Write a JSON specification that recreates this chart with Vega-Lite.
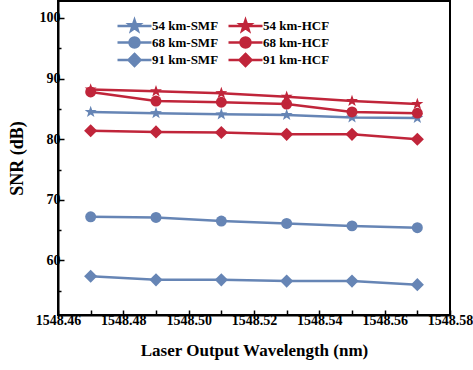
{
  "$schema": "https://vega.github.io/schema/vega-lite/v6.json",
  "width": 392,
  "height": 314,
  "autosize": {"type": "none"},
  "padding": {"left": 58, "top": 1, "right": 23, "bottom": 55},
  "background": "white",
  "config": {
    "font": "Liberation Serif",
    "view": {"stroke": "black", "strokeWidth": 2},
    "axis": {
      "grid": false,
      "domainColor": "black",
      "domainWidth": 2,
      "tickColor": "black",
      "tickWidth": 1.5,
      "labelFont": "Liberation Serif",
      "labelFontWeight": "bold",
      "labelColor": "black",
      "titleFont": "Liberation Serif",
      "titleFontWeight": "bold",
      "titleColor": "black"
    },
    "legend": {
      "labelFont": "Liberation Serif",
      "labelFontWeight": "bold",
      "labelFontSize": 13,
      "labelColor": "black",
      "labelLimit": 200
    }
  },
  "data": {
    "values": [
      {"series": "54 km-SMF", "wavelength": 1548.47, "snr": 84.5},
      {"series": "54 km-SMF", "wavelength": 1548.49, "snr": 84.3},
      {"series": "54 km-SMF", "wavelength": 1548.51, "snr": 84.1},
      {"series": "54 km-SMF", "wavelength": 1548.53, "snr": 84.0},
      {"series": "54 km-SMF", "wavelength": 1548.55, "snr": 83.6},
      {"series": "54 km-SMF", "wavelength": 1548.57, "snr": 83.5},
      {"series": "68 km-SMF", "wavelength": 1548.47, "snr": 67.2},
      {"series": "68 km-SMF", "wavelength": 1548.49, "snr": 67.1},
      {"series": "68 km-SMF", "wavelength": 1548.51, "snr": 66.5},
      {"series": "68 km-SMF", "wavelength": 1548.53, "snr": 66.1},
      {"series": "68 km-SMF", "wavelength": 1548.55, "snr": 65.7},
      {"series": "68 km-SMF", "wavelength": 1548.57, "snr": 65.4},
      {"series": "91 km-SMF", "wavelength": 1548.47, "snr": 57.4},
      {"series": "91 km-SMF", "wavelength": 1548.49, "snr": 56.8},
      {"series": "91 km-SMF", "wavelength": 1548.51, "snr": 56.8},
      {"series": "91 km-SMF", "wavelength": 1548.53, "snr": 56.6},
      {"series": "91 km-SMF", "wavelength": 1548.55, "snr": 56.6},
      {"series": "91 km-SMF", "wavelength": 1548.57, "snr": 56.0},
      {"series": "54 km-HCF", "wavelength": 1548.47, "snr": 88.2},
      {"series": "54 km-HCF", "wavelength": 1548.49, "snr": 87.9},
      {"series": "54 km-HCF", "wavelength": 1548.51, "snr": 87.6},
      {"series": "54 km-HCF", "wavelength": 1548.53, "snr": 87.0},
      {"series": "54 km-HCF", "wavelength": 1548.55, "snr": 86.3},
      {"series": "54 km-HCF", "wavelength": 1548.57, "snr": 85.8},
      {"series": "68 km-HCF", "wavelength": 1548.47, "snr": 87.8},
      {"series": "68 km-HCF", "wavelength": 1548.49, "snr": 86.3},
      {"series": "68 km-HCF", "wavelength": 1548.51, "snr": 86.1},
      {"series": "68 km-HCF", "wavelength": 1548.53, "snr": 85.8},
      {"series": "68 km-HCF", "wavelength": 1548.55, "snr": 84.5},
      {"series": "68 km-HCF", "wavelength": 1548.57, "snr": 84.3},
      {"series": "91 km-HCF", "wavelength": 1548.47, "snr": 81.4},
      {"series": "91 km-HCF", "wavelength": 1548.49, "snr": 81.2},
      {"series": "91 km-HCF", "wavelength": 1548.51, "snr": 81.1},
      {"series": "91 km-HCF", "wavelength": 1548.53, "snr": 80.8},
      {"series": "91 km-HCF", "wavelength": 1548.55, "snr": 80.8},
      {"series": "91 km-HCF", "wavelength": 1548.57, "snr": 80.0}
    ]
  },
  "encoding": {
    "x": {
      "field": "wavelength",
      "type": "quantitative",
      "scale": {"domain": [1548.46, 1548.58], "nice": false, "zero": false},
      "axis": {
        "title": "Laser Output Wavelength (nm)",
        "titleFontSize": 17,
        "titlePadding": 15,
        "labelFontSize": 14,
        "labelPadding": 3,
        "values": [1548.46, 1548.47, 1548.48, 1548.49, 1548.5, 1548.51, 1548.52, 1548.53, 1548.54, 1548.55, 1548.56, 1548.57, 1548.58],
        "labelExpr": "round(datum.value*100) % 2 == 0 ? format(datum.value, '.2f') : ''",
        "labelOverlap": false,
        "labelFlush": false,
        "tickSize": -5
      }
    },
    "y": {
      "field": "snr",
      "type": "quantitative",
      "scale": {"domain": [51, 102.8], "nice": false, "zero": false},
      "axis": {
        "title": "SNR (dB)",
        "titleFontSize": 18,
        "titlePadding": 13,
        "labelFontSize": 14,
        "labelPadding": 4,
        "values": [55, 60, 65, 70, 75, 80, 85, 90, 95, 100],
        "labelExpr": "datum.value % 10 == 0 ? datum.label : ''",
        "labelOverlap": false,
        "tickSize": {"condition": {"test": "datum.value % 10 == 0", "value": -6}, "value": -3}
      }
    },
    "color": {
      "field": "series",
      "type": "nominal",
      "scale": {
        "domain": ["54 km-HCF", "68 km-HCF", "91 km-HCF", "54 km-SMF", "68 km-SMF", "91 km-SMF"],
        "range": ["#c0253a", "#c0253a", "#c0253a", "#6685b5", "#6685b5", "#6685b5"]
      },
      "legend": null
    }
  },
  "layer": [
    {
      "mark": {"type": "line", "strokeWidth": 2.5},
      "encoding": {"detail": {"field": "series"}}
    },
    {
      "transform": [{"filter": "indexof(datum.series, '54') == 0"}],
      "mark": {"type": "point", "filled": true, "opacity": 1, "size": 120,
        "shape": "M0,-1.15L0.27,-0.37L1.09,-0.36L0.44,0.14L0.68,0.93L0,0.46L-0.68,0.93L-0.44,0.14L-1.09,-0.36L-0.27,-0.37Z"}
    },
    {
      "transform": [{"filter": "indexof(datum.series, '68') == 0"}],
      "mark": {"type": "point", "filled": true, "opacity": 1, "size": 120, "shape": "circle"}
    },
    {
      "transform": [{"filter": "indexof(datum.series, '91') == 0"}],
      "mark": {"type": "point", "filled": true, "opacity": 1, "size": 120,
        "shape": "M0,-1.2L1.2,0L0,1.2L-1.2,0Z"}
    },
    {
      "transform": [{"filter": "indexof(datum.series, '68') == 0"}],
      "mark": {"type": "point", "filled": true, "opacity": 0.85, "size": 12, "shape": "circle", "color": "white"}
    },
    {
      "transform": [{"filter": "false"}],
      "mark": {"type": "point", "filled": true, "size": 100, "strokeWidth": 2.5},
      "encoding": {
        "color": {"value": "#888888"},
        "fill": {
          "field": "series",
          "type": "nominal",
          "scale": {
            "domain": ["54 km-SMF", "68 km-SMF", "91 km-SMF", "54 km-HCF", "68 km-HCF", "91 km-HCF"],
            "range": ["#6685b5", "#6685b5", "#6685b5", "#c0253a", "#c0253a", "#c0253a"]
          },
          "legend": {
            "title": null,
            "orient": "none",
            "legendX": 70,
            "legendY": 18,
            "columns": 2,
            "columnPadding": 4,
            "rowPadding": -4.5,
            "padding": 0,
            "symbolSize": 100,
            "symbolStrokeWidth": 2.5,
            "symbolOpacity": 1,
            "labelOffset": 11
          }
        },
        "stroke": {
          "field": "series",
          "type": "nominal",
          "scale": {
            "domain": ["54 km-SMF", "68 km-SMF", "91 km-SMF", "54 km-HCF", "68 km-HCF", "91 km-HCF"],
            "range": ["#6685b5", "#6685b5", "#6685b5", "#c0253a", "#c0253a", "#c0253a"]
          },
          "legend": {
            "title": null,
            "orient": "none",
            "legendX": 70,
            "legendY": 18,
            "columns": 2,
            "columnPadding": 4,
            "rowPadding": -4.5,
            "padding": 0,
            "symbolSize": 100,
            "symbolStrokeWidth": 2.5,
            "symbolOpacity": 1,
            "labelOffset": 11
          }
        },
        "shape": {
          "field": "series",
          "type": "nominal",
          "scale": {
            "domain": ["54 km-SMF", "68 km-SMF", "91 km-SMF", "54 km-HCF", "68 km-HCF", "91 km-HCF"],
            "range": [
              "M-3.4,0H3.4M0,-1.15L0.27,-0.37L1.09,-0.36L0.44,0.14L0.68,0.93L0,0.46L-0.68,0.93L-0.44,0.14L-1.09,-0.36L-0.27,-0.37Z",
              "M-3.4,0H3.4M-1,0A1,1,0,1,1,1,0A1,1,0,1,1,-1,0Z",
              "M-3.4,0H3.4M0,-1.2L1.2,0L0,1.2L-1.2,0Z",
              "M-3.4,0H3.4M0,-1.15L0.27,-0.37L1.09,-0.36L0.44,0.14L0.68,0.93L0,0.46L-0.68,0.93L-0.44,0.14L-1.09,-0.36L-0.27,-0.37Z",
              "M-3.4,0H3.4M-1,0A1,1,0,1,1,1,0A1,1,0,1,1,-1,0Z",
              "M-3.4,0H3.4M0,-1.2L1.2,0L0,1.2L-1.2,0Z"
            ]
          },
          "legend": {
            "title": null,
            "orient": "none",
            "legendX": 70,
            "legendY": 18,
            "columns": 2,
            "columnPadding": 4,
            "rowPadding": -4.5,
            "padding": 0,
            "symbolSize": 100,
            "symbolStrokeWidth": 2.5,
            "symbolOpacity": 1,
            "labelOffset": 11
          }
        }
      }
    }
  ]
}
